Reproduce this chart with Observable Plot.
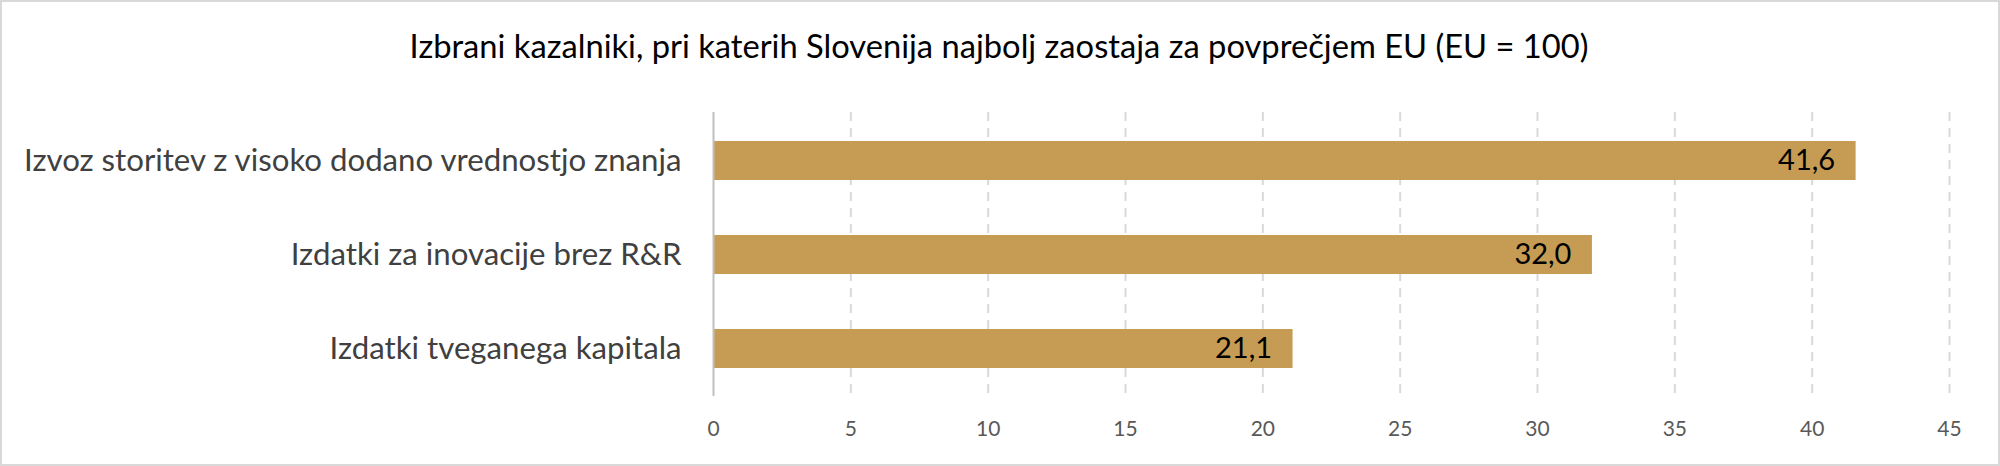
<!DOCTYPE html>
<html>
<head>
<meta charset="utf-8">
<script src="https://cdn.jsdelivr.net/npm/d3@7"></script>
<script src="https://cdn.jsdelivr.net/npm/@observablehq/plot@0.6"></script>
<style>
  html, body { margin: 0; padding: 0; background: #fff; }
  #wrap { position: relative; width: 2000px; height: 466px; overflow: hidden; background: #fff; }
  #frame { position: absolute; left: 0; top: 0; width: 2000px; height: 466px; box-sizing: border-box; border: 2px solid #d9d9d9; pointer-events: none; }
  #title { position: absolute; left: 0; width: 1998px; top: 30px; line-height: 1; text-align: center; font-family: Lato, sans-serif; font-size: 32.7px; color: #000; white-space: nowrap; }
  #chart { position: absolute; left: 0; top: 0; }
</style>
</head>
<body>
<div id="wrap">
  <div id="chart"></div>
  <div id="title">Izbrani kazalniki, pri katerih Slovenija najbolj zaostaja za povprečjem EU (EU = 100)</div>
  <div id="frame"></div>
</div>
<script>
const categories = [
  "Izvoz storitev z visoko dodano vrednostjo znanja",
  "Izdatki za inovacije brez R&R",
  "Izdatki tveganega kapitala"
];
const values = [41.6, 32.0, 21.1];
const xTicks = [0, 5, 10, 15, 20, 25, 30, 35, 40, 45];

const data = categories.map((c, i) => ({label: c, value: values[i]}));
const fmt = v => v.toFixed(1).replace(".", ",");

const chart = Plot.plot({
  width: 2000,
  height: 466,
  marginLeft: 713,
  marginRight: 51,
  marginTop: 112,
  marginBottom: 70,
  style: {fontFamily: "Lato, sans-serif", background: "transparent"},
  x: {domain: [0, 45], ticks: xTicks},
  y: {domain: categories, paddingInner: 0.59, paddingOuter: 0.295},
  marks: [
    Plot.ruleX(xTicks.filter(t => t > 0), {stroke: "#d9d9d9", strokeWidth: 2, strokeDasharray: "9,7"}),
    Plot.barX(data, {x: "value", y: "label", fill: "#C69C54"}),
    Plot.ruleX([0], {stroke: "#bfbfbf", strokeWidth: 2}),
    Plot.text(data, {x: "value", y: "label", text: d => fmt(d.value), textAnchor: "end", dx: -21, fill: "#000", fontSize: 29}),
    Plot.axisX({ticks: xTicks, tickSize: 0, tickPadding: 25, fontSize: 21, fill: "#595959", label: null, tickFormat: d => String(d)}),
    Plot.axisY({tickSize: 0, tickPadding: 32, fontSize: 31.2, fill: "#404040", label: null})
  ]
});
document.getElementById("chart").appendChild(chart);
</script>
</body>
</html>
